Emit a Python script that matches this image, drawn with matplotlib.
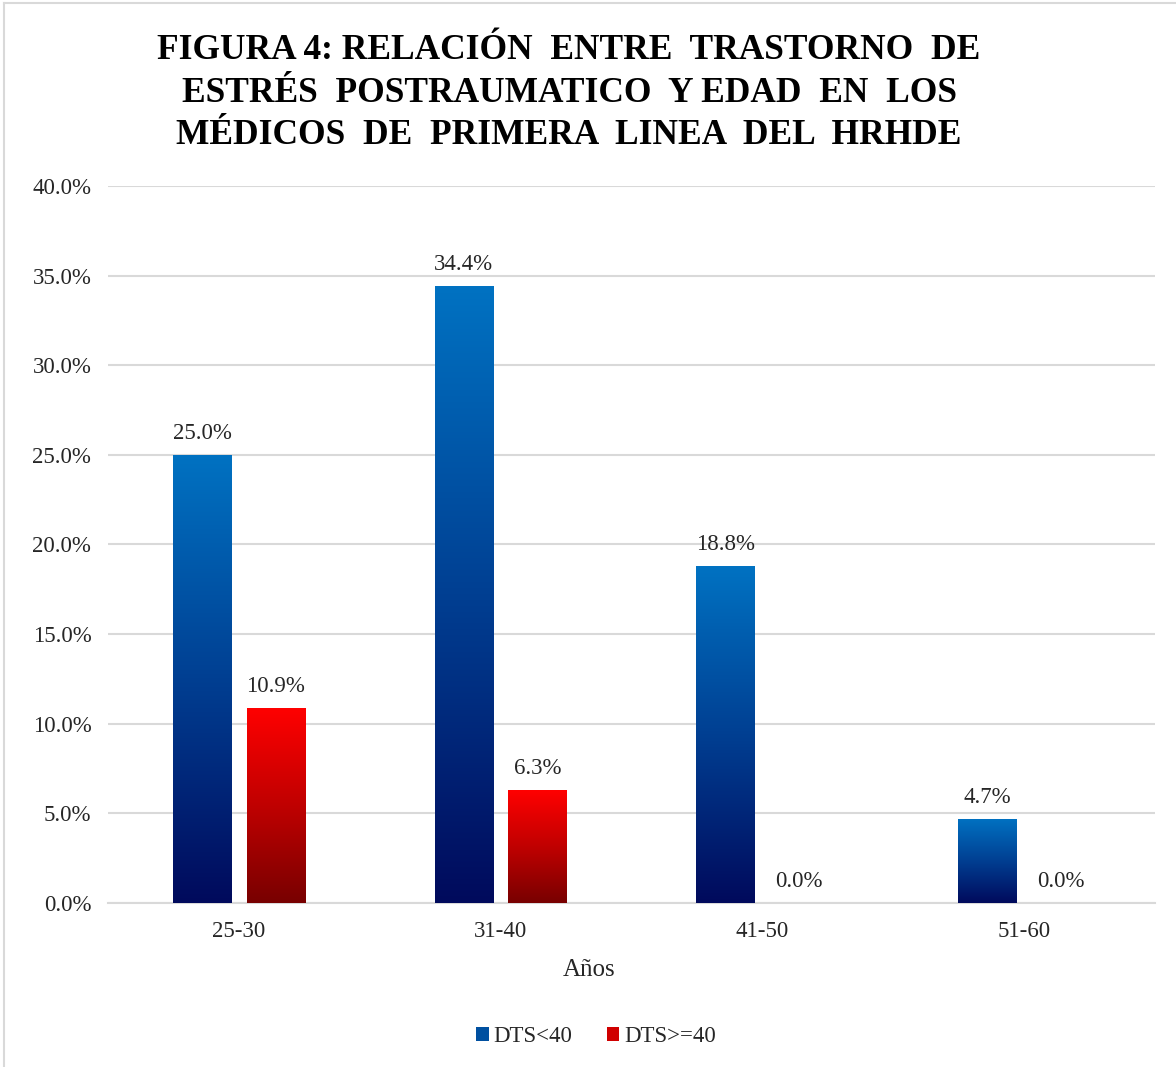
import numpy as np
import matplotlib
matplotlib.use("Agg")
import matplotlib.pyplot as plt
from matplotlib.colors import LinearSegmentedColormap
from matplotlib.patches import Patch
from matplotlib.lines import Line2D

plt.rcParams['font.family'] = ['Liberation Serif', 'DejaVu Serif']

# data
categories = ["25-30", "31-40", "41-50", "51-60"]
dts_lt40 = [25.0, 34.4, 18.8, 4.7]
dts_ge40 = [10.9, 6.3, 0.0, 0.0]
series_names = ["DTS<40", "DTS>=40"]
yticks = [0, 5, 10, 15, 20, 25, 30, 35, 40]

title = ("FIGURA 4: RELACIÓN  ENTRE  TRASTORNO  DE\n"
         "ESTRÉS  POSTRAUMATICO  Y EDAD  EN  LOS\n"
         "MÉDICOS  DE  PRIMERA  LINEA  DEL  HRHDE")

blue_cmap = LinearSegmentedColormap.from_list("blue", ["#000A5C", "#003F92", "#0072C2"])
red_cmap = LinearSegmentedColormap.from_list("red", ["#780000", "#C00000", "#FF0000"])

fig = plt.figure(figsize=(11.76, 10.67), dpi=100)
ax = fig.add_axes([108/1176, 1 - 903/1067, (1155-108)/1176, (903-186)/1067])

x = np.arange(len(categories))
w = 0.222
off = 0.141

bars1 = ax.bar(x - off, dts_lt40, w, facecolor='none', edgecolor='none', zorder=3)
bars2 = ax.bar(x + off, dts_ge40, w, facecolor='none', edgecolor='none', zorder=3)

# vertical gradient fill, clipped to each bar
grad = np.linspace(0, 1, 256).reshape(-1, 1)
for bars, cmap in [(bars1, blue_cmap), (bars2, red_cmap)]:
    for b in bars:
        h = b.get_height()
        if h <= 0:
            continue
        x0 = b.get_x()
        im = ax.imshow(grad, cmap=cmap, origin='lower', aspect='auto',
                       extent=(x0, x0 + b.get_width(), 0, h), zorder=3)
        im.set_clip_path(b)

for bars, vals in [(bars1, dts_lt40), (bars2, dts_ge40)]:
    for b, v in zip(bars, vals):
        ax.annotate(f"{v:.1f}%", (b.get_x() + b.get_width()/2, v),
                    xytext=(0, 8), textcoords='offset points',
                    ha='center', va='bottom', fontsize=16.5, color='#262626')

ax.set_xlim(-0.5, len(categories) - 0.5)
ax.set_ylim(0, 40)
ax.set_yticks(yticks)
ax.set_yticklabels([f"{t:.1f}%" for t in yticks])
ax.set_xticks(x)
ax.set_xticklabels(categories)
ax.tick_params(axis='both', length=0, labelsize=16.5, labelcolor='#262626')
ax.tick_params(axis='y', pad=12)
ax.tick_params(axis='x', pad=13)
ax.grid(axis='y', color='#D9D9D9', linewidth=1.5, zorder=0)
ax.set_axisbelow(True)
for s in ['top', 'right', 'left']:
    ax.spines[s].set_visible(False)
ax.spines['bottom'].set_color('#D9D9D9')
ax.spines['bottom'].set_linewidth(1.5)
ax.set_xlabel("Años", fontsize=18, color='#262626')
ax.xaxis.set_label_coords((589-108)/(1155-108), -(970-903)/(903-186), transform=ax.transAxes)
ax.xaxis.label.set_va('center')

fig.text(569/1176, 1 - 93/1067, title, ha='center', va='center',
         fontsize=25.5, fontweight='bold', linespacing=1.39)

handles = [Patch(facecolor='#0050A0'), Patch(facecolor='#D00000')]
fig.legend(handles, series_names, loc='center', bbox_to_anchor=(596/1176, 1 - 1037/1067),
           ncol=2, frameon=False, fontsize=16.5, handlelength=0.55, handleheight=0.55,
           handletextpad=0.2, columnspacing=1.5, labelcolor='#262626')

# chart border
fig.add_artist(Line2D([4/1176, 4/1176], [0, 1 - 3/1067], transform=fig.transFigure,
                      color='#D9D9D9', linewidth=1.5))
fig.add_artist(Line2D([4/1176, 1], [1 - 3/1067, 1 - 3/1067], transform=fig.transFigure,
                      color='#D9D9D9', linewidth=1.5))

fig.savefig("out.png", dpi=100, facecolor='white')
